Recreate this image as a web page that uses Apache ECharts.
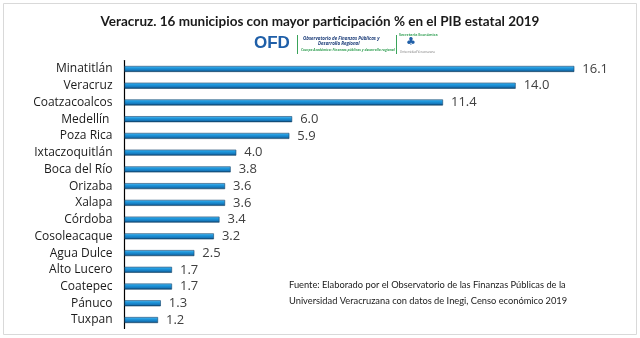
<!DOCTYPE html>
<html><head><meta charset="utf-8">
<script src="https://cdn.jsdelivr.net/npm/echarts@6/dist/echarts.min.js"></script>
<style>html,body{margin:0;padding:0;background:#fff}#c{width:640px;height:338px}</style>
</head><body><div id="c"></div>
<script>
const categories = ["Minatitlán","Veracruz","Coatzacoalcos","Medellín ","Poza Rica","Ixtaczoquitlán","Boca del Río","Orizaba","Xalapa","Córdoba","Cosoleacaque","Agua Dulce","Alto Lucero","Coatepec","Pánuco","Tuxpan"];
const values = [16.1,14.0,11.4,6.0,5.9,4.0,3.8,3.6,3.6,3.4,3.2,2.5,1.7,1.7,1.3,1.2];
const titleText = "Veracruz. 16 municipios con mayor participación % en el PIB estatal 2019";
const sourceLines = ["Fuente: Elaborado por el Observatorio de las Finanzas Públicas de la","Universidad Veracruzana con datos de Inegi, Censo económico 2019"];

const chart = echarts.init(document.getElementById('c'));
const font = 'Open Sans, sans-serif';
chart.setOption({
  animation:false,
  title:{text:titleText,left:'center',top:10,textStyle:{fontFamily:'Lato',fontSize:13.5,fontWeight:'bold',color:'#1a1a1a'}},
  grid:{left:124.5,right:12.6,top:60.6,bottom:9.6},
  xAxis:{type:'value',min:0,max:18,show:false},
  yAxis:{type:'category',data:categories,inverse:true,
    axisLine:{lineStyle:{color:'#000',width:1.2}},axisTick:{show:false},
    axisLabel:{fontFamily:font,fontSize:12,color:'#1a1a1a',margin:12}},
  series:[{type:'bar',data:values,barWidth:6,
    itemStyle:{color:new echarts.graphic.LinearGradient(0,0,0,1,[
      {offset:0,color:'#6cc0f2'},{offset:0.3,color:'#1f9be0'},{offset:0.7,color:'#1679bd'},{offset:1,color:'#0b3a5e'}]),
      borderColor:'#16466d',borderWidth:0.6},
    label:{show:true,position:'right',distance:8,fontFamily:font,fontSize:13,color:'#404040',formatter:p=>p.value.toFixed(1)}}],
  graphic:[
    {type:'rect',shape:{x:3.5,y:3.5,width:633,height:331},style:{fill:'none',stroke:'#d9d9d9',lineWidth:1},silent:true},
    {type:'text',left:254,top:35,style:{text:'OFD',fontFamily:'Liberation Sans',fontWeight:'bold',fontSize:17,fill:'#1f5fa8'}},
    {type:'rect',shape:{x:297,y:35,width:1,height:19},style:{fill:'#3aa35a'}},
    {type:'text',left:303,top:36,style:{text:'Observatorio de Finanzas Públicas y',fontFamily:font,fontStyle:'italic',fontWeight:'bold',fontSize:4.5,fill:'#1f3f7a'}},
    {type:'text',left:318,top:41,style:{text:'Desarrollo Regional',fontFamily:font,fontStyle:'italic',fontWeight:'bold',fontSize:4.5,fill:'#1f3f7a'}},
    {type:'text',left:301,top:49,style:{text:'Cuerpo Académico: Finanzas públicas y desarrollo regional',fontFamily:font,fontStyle:'italic',fontWeight:'bold',fontSize:3.4,fill:'#3aa35a'}},
    {type:'rect',shape:{x:396,y:35,width:1,height:19},style:{fill:'#3aa35a'}},
    {type:'text',left:399,top:33,style:{text:'Secretaría Económica',fontFamily:font,fontWeight:'bold',fontSize:3.6,fill:'#3aa35a'}},
    {type:'text',left:406,top:37,style:{text:'♣',fontFamily:'DejaVu Sans',fontSize:11,fill:'#1f5fa8'}},
    {type:'text',left:400,top:51,style:{text:'Universidad Veracruzana',fontFamily:font,fontSize:3,fill:'#777'}},
    {type:'text',left:289,top:277,style:{text:sourceLines.join('\n'),fontFamily:'Lato',fontSize:9.3,lineHeight:16,fill:'#1a1a1a'}}
  ]
});
</script></body></html>
